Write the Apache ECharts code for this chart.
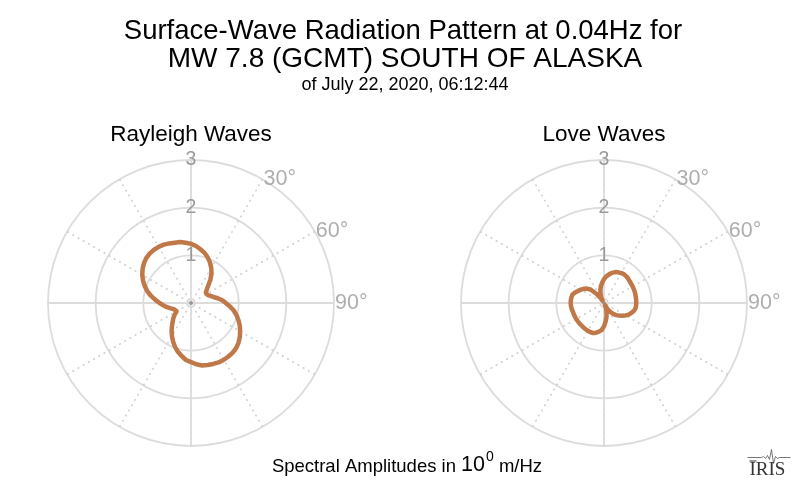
<!DOCTYPE html>
<html>
<head>
<meta charset="utf-8">
<script src="https://cdn.jsdelivr.net/npm/echarts@6/dist/echarts.min.js"></script>
<style>
html,body{margin:0;padding:0;background:#fff;}
#chart{width:800px;height:493px;}
</style>
</head>
<body>
<div id="chart"></div>
<script>
// Azimuth (degrees, clockwise from north), every 5 degrees
const azimuths = [0,5,10,15,20,25,30,35,40,45,50,55,60,65,70,75,80,85,90,95,100,105,110,115,120,125,130,135,140,145,150,155,160,165,170,175,
                  180,185,190,195,200,205,210,215,220,225,230,235,240,245,250,255,260,265,270,275,280,285,290,295,300,305,310,315,320,325,330,335,340,345,350,355,360];
// Spectral amplitudes (10^0 m/Hz)
const rayleighAmp = [1.24,1.20,1.145,1.09,1.02,0.94,0.85,0.75,0.63,0.51,0.43,0.38,0.36,0.39,0.44,0.485,0.57,0.66,0.73,0.82,0.91,0.99,1.06,1.13,1.19,1.25,1.30,1.34,1.36,1.37,1.375,1.375,1.36,1.345,1.33,1.29,
                     1.24,1.20,1.13,1.06,0.98,0.89,0.80,0.71,0.62,0.54,0.48,0.41,0.35,0.34,0.38,0.44,0.51,0.58,0.66,0.75,0.85,0.95,1.03,1.11,1.18,1.24,1.29,1.33,1.35,1.36,1.36,1.35,1.33,1.31,1.30,1.27,1.24];
const loveAmp = [0.50,0.56,0.61,0.655,0.69,0.71,0.725,0.735,0.73,0.72,0.705,0.697,0.693,0.69,0.686,0.682,0.679,0.678,0.676,0.675,0.67,0.645,0.61,0.575,0.52,0.465,0.41,0.36,0.30,0.23,0.14,0.05,0.12,0.21,0.30,0.39,
                 0.49,0.57,0.61,0.645,0.67,0.675,0.675,0.672,0.67,0.668,0.668,0.67,0.672,0.674,0.676,0.68,0.69,0.695,0.70,0.698,0.692,0.685,0.645,0.60,0.56,0.52,0.47,0.40,0.26,0.14,0.06,0.14,0.215,0.29,0.364,0.43,0.50];
const radiusTicks = [1,2,3];
const angleLabelTicks = [30,60,90];

const FONT = '"Liberation Sans", Arial, sans-serif';
const GRID = '#dcdcdc';
const LABEL_GREY = '#9a9a9a';
const CURVE = '#c07848';
const centers = [[191,303],[604,303]];
const R = 143;

const polars = [];
const angleAxes = [];
const radiusAxes = [];
centers.forEach(function(c){
  polars.push({center: c, radius: R});
  angleAxes.push({
    polarIndex: polars.length-1, type:'value', min:0, max:360, interval:30,
    startAngle:90, clockwise:true,
    axisLine:{show:false}, axisTick:{show:false}, axisLabel:{show:false},
    splitLine:{show:true, lineStyle:{color:'#d0d0d0', width:1.5, type:[2,4]}}
  });
  radiusAxes.push({
    polarIndex: polars.length-1, type:'value', min:0, max:3, interval:1,
    axisLine:{show:false}, axisTick:{show:false},
    axisLabel:{show:true, margin:0, align:'center', verticalAlign:'middle',
      color:LABEL_GREY, fontSize:19.5, fontFamily:FONT,
      formatter:function(v){ return radiusTicks.indexOf(v) >= 0 ? String(v) : ''; }},
    splitLine:{show:true, lineStyle:{color:GRID, width:1.8}}
  });
  polars.push({center: c, radius: R});
  angleAxes.push({
    polarIndex: polars.length-1, type:'value', min:0, max:360, interval:90,
    startAngle:90, clockwise:true,
    axisLine:{show:false}, axisTick:{show:false}, axisLabel:{show:false},
    splitLine:{show:true, lineStyle:{color:GRID, width:1.8, type:'solid'}}
  });
  radiusAxes.push({
    polarIndex: polars.length-1, type:'value', min:0, max:3,
    axisLine:{show:false}, axisTick:{show:false}, axisLabel:{show:false},
    splitLine:{show:false}
  });
});

function pairs(amp){ return amp.map(function(r,i){ return [r, azimuths[i]]; }); }

const series = [];
[rayleighAmp, loveAmp].forEach(function(amp, k){
  const pi = k*2;
  series.push({
    type:'line', coordinateSystem:'polar', polarIndex:pi,
    data: pairs(amp), smooth:false, showSymbol:false, symbol:'none',
    lineStyle:{color:CURVE, width:4.5, join:'round', cap:'round'}, z:5, silent:true
  });
  series.push({
    type:'scatter', coordinateSystem:'polar', polarIndex:pi,
    data:[[0,0]], symbolSize:4, itemStyle:{color:'#8a8a8a'}, z:4, silent:true
  });
  series.push({
    type:'scatter', coordinateSystem:'polar', polarIndex:pi,
    data: angleLabelTicks.map(function(a){ return [3, a]; }),
    symbolSize:0, silent:true,
    label:{show:true, position:'right', distance:1, color:LABEL_GREY, fontSize:21.5, fontFamily:FONT,
      formatter:function(p){ return p.value[1] + '°'; }}
  });
});

const option = {
  backgroundColor:'#fff',
  animation:false,
  title:[
    {text:'Surface-Wave Radiation Pattern at 0.04Hz for', left:398, top:12, textAlign:'center',
     textStyle:{fontSize:27.5, fontWeight:'normal', color:'#000', fontFamily:FONT}},
    {text:'MW 7.8 (GCMT) SOUTH OF ALASKA', left:400, top:40, textAlign:'center',
     textStyle:{fontSize:28, fontWeight:'normal', color:'#000', fontFamily:FONT}},
    {text:'of July 22, 2020, 06:12:44', left:400, top:71, textAlign:'center',
     textStyle:{fontSize:18, fontWeight:'normal', color:'#000', fontFamily:FONT}},
    {text:'Rayleigh Waves', left:186, top:118, textAlign:'center',
     textStyle:{fontSize:22.5, fontWeight:'normal', color:'#000', fontFamily:FONT}},
    {text:'Love Waves', left:599, top:118, textAlign:'center',
     textStyle:{fontSize:22.5, fontWeight:'normal', color:'#000', fontFamily:FONT}},
    {text:'{a|Spectral Amplitudes in }{b|10}{c|0}{a| m/Hz}', left:402, top:445, textAlign:'center',
     textStyle:{fontFamily:FONT, fontWeight:'normal', rich:{
       a:{fontSize:18.5, fontWeight:'normal', color:'#000', fontFamily:FONT, verticalAlign:'bottom', lineHeight:26},
       b:{fontSize:21.5, fontWeight:'normal', color:'#000', fontFamily:FONT, verticalAlign:'bottom', lineHeight:26},
       c:{fontSize:14, fontWeight:'normal', color:'#000', fontFamily:FONT, verticalAlign:'top', lineHeight:26, padding:[0,0,10,1]}
     }}}
  ],
  polar: polars,
  angleAxis: angleAxes,
  radiusAxis: radiusAxes,
  series: series,
  graphic:[
    {type:'group', left:745, top:447, children:[
      {type:'polyline', shape:{points:[[0,8],[14,8],[16,7],[18,9],[20,6],[22,10],[24,0],[26,14],[28,7],[30,9],[32,8],[43,8]]},
       style:{stroke:'#555', lineWidth:0.8, fill:null}},
      {type:'text', x:2, y:11, style:{text:'IRIS', font:'19px "Liberation Serif", serif', fill:'#333'}},
      {type:'line', shape:{x1:2, y1:11.5, x2:9, y2:11.5}, style:{stroke:'#333', lineWidth:1}}
    ]}
  ]
};
const chart = echarts.init(document.getElementById('chart'), null, {renderer:'canvas'});
chart.setOption(option);
</script>
</body>
</html>
